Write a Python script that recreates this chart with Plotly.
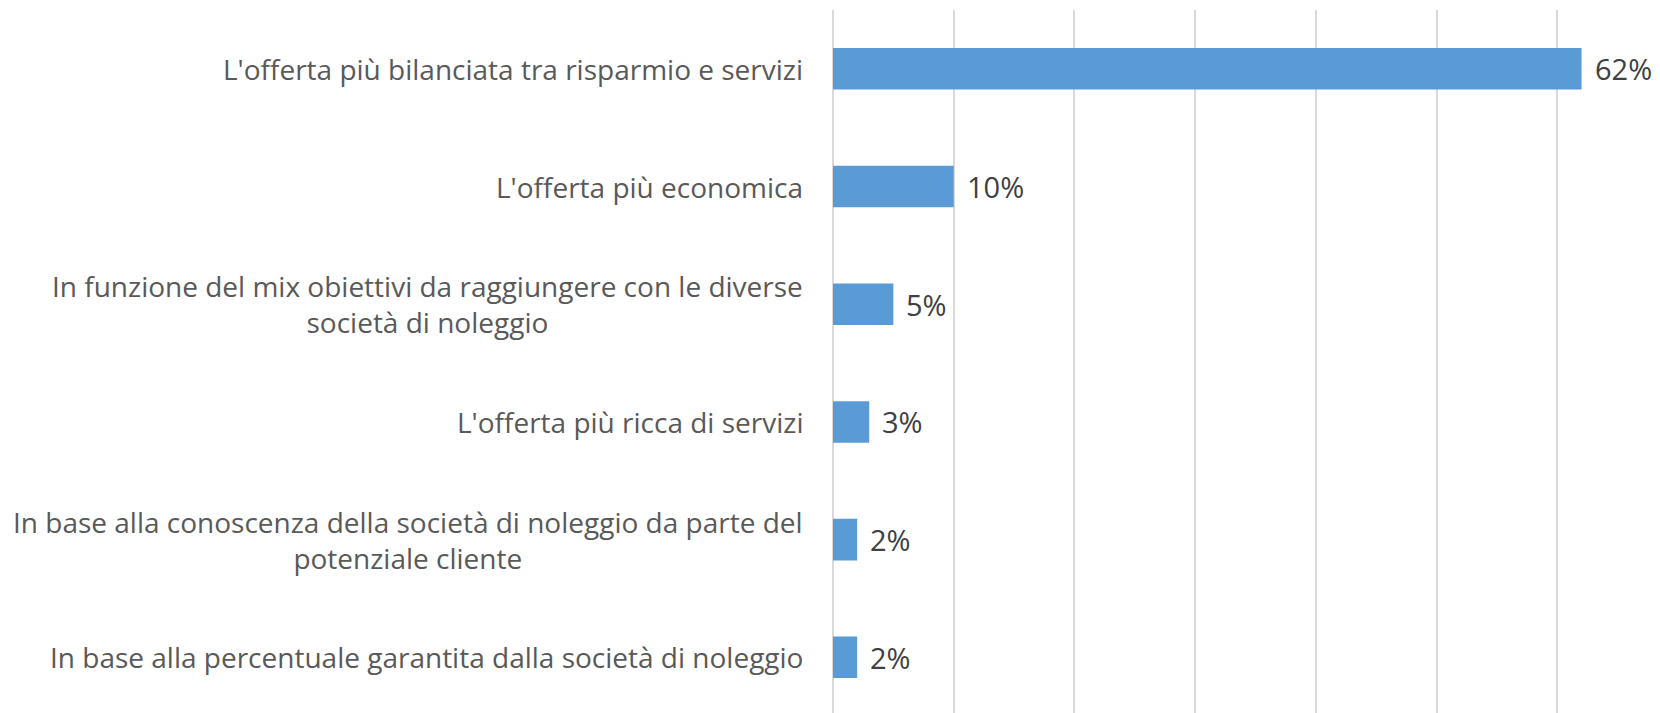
import plotly.graph_objects as go

categories = [
    "L'offerta più bilanciata tra risparmio e servizi",
    "L'offerta più economica",
    "In funzione del mix obiettivi da raggiungere con le diverse<br>società di noleggio",
    "L'offerta più ricca di servizi",
    "In base alla conoscenza della società di noleggio da parte del<br>potenziale cliente",
    "In base alla percentuale garantita dalla società di noleggio",
]
values = [62, 10, 5, 3, 2, 2]
value_labels = ["62%", "10%", "5%", "3%", "2%", "2%"]
x_ticks = [0, 10, 20, 30, 40, 50, 60]

FONT = "Open Sans"
TXT = "#595959"
FS = 28
FS_VAL = 29

fig = go.Figure()
fig.add_trace(go.Bar(
    x=values, y=categories, orientation="h",
    marker=dict(color="#5B9BD5", line=dict(width=0)),
    hoverinfo="skip",
))

for c, v, lab in zip(categories, values, value_labels):
    fig.add_annotation(x=v, y=c, xref="x", yref="y", text=lab, showarrow=False,
                       xanchor="left", yanchor="middle", xshift=11,
                       font=dict(family=FONT, size=FS_VAL, color="#404040"))
    fig.add_annotation(x=0, y=c, xref="paper", yref="y", text=c, showarrow=False,
                       xanchor="right", yanchor="middle", xshift=-28, align="center",
                       font=dict(family=FONT, size=FS, color=TXT))

fig.update_layout(
    width=1652, height=705,
    margin=dict(l=825, r=0, t=2, b=0),
    paper_bgcolor="white", plot_bgcolor="white",
    bargap=0.647,
    showlegend=False,
    font=dict(family=FONT, size=FS, color=TXT),
    xaxis=dict(range=[0, 68.5], tickvals=x_ticks, showticklabels=False,
               showgrid=True, gridcolor="#D9D9D9", gridwidth=1.5,
               zeroline=True, zerolinecolor="#D9D9D9", zerolinewidth=1.5,
               showline=False, fixedrange=True),
    yaxis=dict(type="category", categoryorder="array", categoryarray=categories,
               range=[5.473, -0.5], showticklabels=False, showgrid=False,
               zeroline=False, showline=False, fixedrange=True),
)
fig.write_html("out.html")
